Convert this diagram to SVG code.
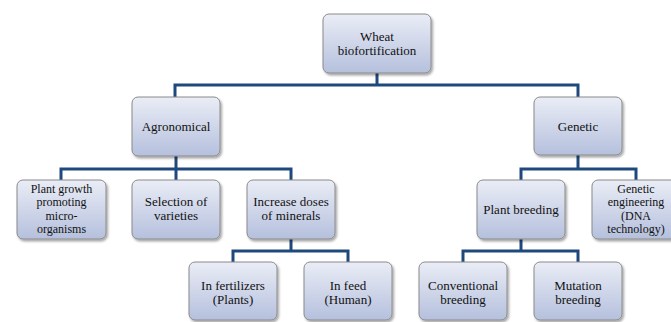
<svg xmlns="http://www.w3.org/2000/svg" width="671" height="322" viewBox="0 0 671 322">
<defs>
<linearGradient id="g" x1="0" y1="0" x2="0" y2="1">
<stop offset="0" stop-color="#eaedf6"/>
<stop offset="1" stop-color="#b5c0dd"/>
</linearGradient>
<filter id="sh" x="-10%" y="-10%" width="125%" height="130%">
<feDropShadow dx="1.5" dy="2" stdDeviation="1.2" flood-color="#000" flood-opacity="0.35"/>
</filter>
</defs>
<style>
.box{fill:url(#g);stroke:#8a8a8a;stroke-width:1;filter:url(#sh)}
.t{font-size:13px;fill:#111;text-anchor:middle}
.s{font-size:12px}
.c{fill:none;stroke:#1f497d;stroke-width:3}
</style>
<rect width="671" height="322" fill="#fff"/>
<g id="connectors">
<path class="c" d="M377 73V85M175 97V85H578V97"/>
<path class="c" d="M176 156V169M61 180V169H291V180M176 169V180"/>
<path class="c" d="M578 155V169M521 180V169H636V180"/>
<path class="c" d="M291 239V251M233 262V251H348V262"/>
<path class="c" d="M521 239V251M463 262V251H578V262"/>
</g>
<g font-family="'Liberation Serif', 'DejaVu Serif', 'Times New Roman', serif">
<g id="n-wheat"><rect class="box" x="323" y="14" width="108" height="59" rx="6"/><text class="t" x="377" y="41">Wheat</text><text class="t" x="377" y="55">biofortification</text></g>
<g id="n-agronomical"><rect class="box" x="132" y="97" width="88" height="59" rx="6"/><text class="t" x="176" y="131">Agronomical</text></g>
<g id="n-genetic"><rect class="box" x="534" y="97" width="88" height="58" rx="6"/><text class="t" x="578" y="131">Genetic</text></g>
<g id="n-pgpm"><rect class="box" x="17" y="180" width="89" height="59" rx="6"/><text class="t s" x="61.5" y="192.5">Plant growth</text><text class="t s" x="61.5" y="206">promoting</text><text class="t s" x="61.5" y="219.5">micro-</text><text class="t s" x="61.5" y="233">organisms</text></g>
<g id="n-selection"><rect class="box" x="132" y="180" width="88" height="59" rx="6"/><text class="t" x="176" y="206">Selection of</text><text class="t" x="176" y="220">varieties</text></g>
<g id="n-increase"><rect class="box" x="247" y="180" width="88" height="59" rx="6"/><text class="t" x="291" y="206">Increase doses</text><text class="t" x="291" y="220">of minerals</text></g>
<g id="n-plantbreeding"><rect class="box" x="477" y="180" width="88" height="59" rx="6"/><text class="t" x="521" y="214">Plant breeding</text></g>
<g id="n-geneng"><rect class="box" x="592" y="180" width="88" height="59" rx="6"/><text class="t s" x="636" y="192.5">Genetic</text><text class="t s" x="636" y="206">engineering</text><text class="t s" x="636" y="219.5">(DNA</text><text class="t s" x="636" y="233">technology)</text></g>
<g id="n-fert"><rect class="box" x="189" y="262" width="88" height="58" rx="6"/><text class="t" x="233" y="289.5">In fertilizers</text><text class="t" x="233" y="303.5">(Plants)</text></g>
<g id="n-feed"><rect class="box" x="304" y="262" width="88" height="58" rx="6"/><text class="t" x="348" y="289.5">In feed</text><text class="t" x="348" y="303.5">(Human)</text></g>
<g id="n-conv"><rect class="box" x="419" y="262" width="88" height="58" rx="6"/><text class="t" x="463" y="289.5">Conventional</text><text class="t" x="463" y="303.5">breeding</text></g>
<g id="n-mut"><rect class="box" x="534" y="262" width="88" height="58" rx="6"/><text class="t" x="578" y="289.5">Mutation</text><text class="t" x="578" y="303.5">breeding</text></g>
</g>
</svg>
